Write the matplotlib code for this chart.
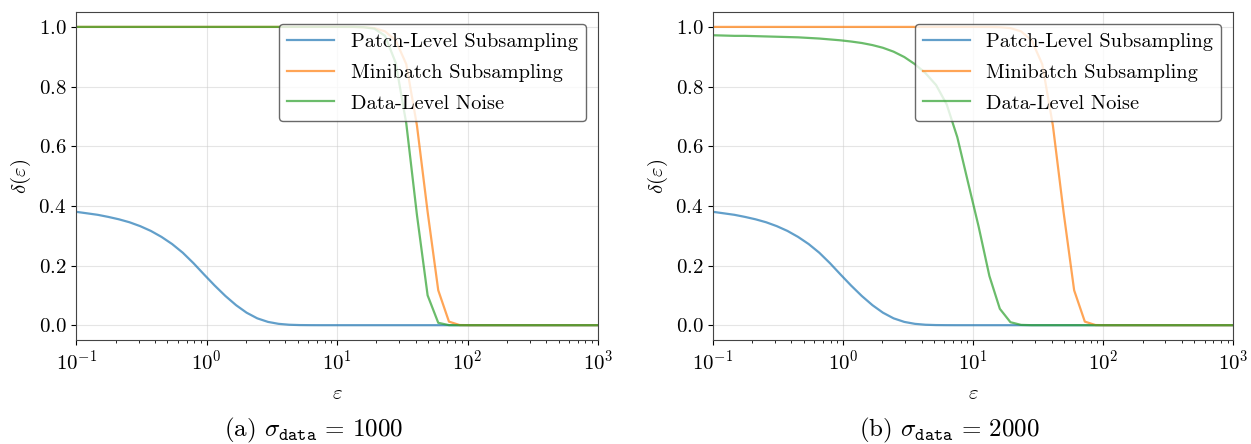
import matplotlib
matplotlib.use("Agg")
import matplotlib.pyplot as plt

plt.rcParams["font.family"] = "serif"
plt.rcParams["font.serif"] = ["cmr10", "DejaVu Serif"]
plt.rcParams["mathtext.fontset"] = "cm"
plt.rcParams["axes.formatter.use_mathtext"] = True
plt.rcParams["axes.unicode_minus"] = False

# ---------- dados ----------
eps = [0.1, 0.121, 0.146, 0.176, 0.212, 0.256, 0.309, 0.373, 0.450, 0.543,
       0.655, 0.791, 0.954, 1.15, 1.39, 1.68, 2.02, 2.44, 2.95, 3.56,
       4.29, 5.18, 6.25, 7.54, 9.10, 11.0, 13.3, 16.0, 19.3, 23.3,
       28.1, 33.9, 40.9, 49.4, 59.6, 72.0, 86.9, 105, 126, 153,
       184, 222, 268, 324, 391, 471, 569, 687, 829, 1000]

patch = [0.380, 0.375, 0.370, 0.363, 0.355, 0.345, 0.332, 0.316, 0.296, 0.272,
         0.243, 0.208, 0.170, 0.133, 0.098, 0.067, 0.042, 0.023, 0.011, 0.0045,
         0.0015, 0.0004, 0.0001, 0, 0, 0, 0, 0, 0, 0,
         0, 0, 0, 0, 0, 0, 0, 0, 0, 0,
         0, 0, 0, 0, 0, 0, 0, 0, 0, 0]

minibatch = [1.0] * 26 + [0.9999, 0.999, 0.996, 0.985, 0.955, 0.875, 0.67, 0.38,
                          0.117, 0.012, 0.0005] + [0.0] * 13

noise_a = [1.0] * 27 + [0.999, 0.994, 0.97, 0.88, 0.676, 0.37, 0.10, 0.008,
                        0.0002] + [0.0] * 14

noise_b = [0.972, 0.971, 0.970, 0.970, 0.969, 0.968, 0.967, 0.966, 0.965, 0.963,
           0.961, 0.958, 0.955, 0.951, 0.946, 0.939, 0.930, 0.917, 0.899, 0.875,
           0.845, 0.805, 0.74, 0.63, 0.48, 0.33, 0.165, 0.055, 0.010, 0.001,
           0, 0, 0, 0, 0, 0, 0, 0, 0, 0,
           0, 0, 0, 0, 0, 0, 0, 0, 0, 0]

paineis = [
    (noise_a, r"(a) $\sigma_{\mathtt{data}} \,=\, 1000$"),
    (noise_b, r"(b) $\sigma_{\mathtt{data}} \,=\, 2000$"),
]

fig = plt.figure(figsize=(12.51, 4.44), dpi=100)
posicoes = [[0.061, 0.234, 0.417, 0.739], [0.570, 0.234, 0.416, 0.739]]

for pos, (noise, legenda) in zip(posicoes, paineis):
    ax = fig.add_axes(pos)
    ax.plot(eps, patch, color="#1f77b4", alpha=0.7, lw=1.6, label="Patch-Level Subsampling")
    ax.plot(eps, minibatch, color="#ff7f0e", alpha=0.7, lw=1.6, label="Minibatch Subsampling")
    ax.plot(eps, noise, color="#2ca02c", alpha=0.7, lw=1.6, label="Data-Level Noise")
    ax.set_xscale("log")
    ax.set_xlim(0.1, 1000)
    ax.set_ylim(-0.05, 1.05)
    ax.set_xlabel(r"$\varepsilon$", fontsize=15, labelpad=8)
    ax.set_ylabel(r"$\delta(\varepsilon)$", fontsize=15)
    ax.grid(True, color="#cccccc", alpha=0.5, lw=0.8)
    ax.tick_params(labelsize=15)
    for s in ax.spines.values():
        s.set_color("#444444")
    ax.legend(loc="upper right", fontsize=14.7, framealpha=0.8,
              edgecolor="#444444", fancybox=True, handlelength=2.3,
              borderaxespad=0.6, labelspacing=0.62)
    # legenda da subfigura, centrada na subfigura (inclui o rótulo do eixo y)
    ax.text(0.455, -0.275, legenda, transform=ax.transAxes, ha="center",
            va="center", fontsize=18)

fig.savefig("out.png", dpi=100)
